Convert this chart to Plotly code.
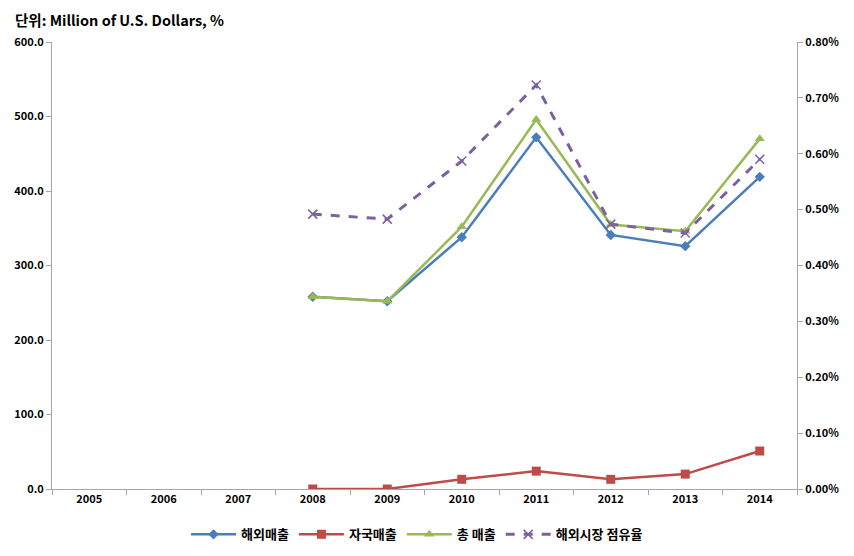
import plotly.graph_objects as go

years = ["2005", "2006", "2007", "2008", "2009", "2010", "2011", "2012", "2013", "2014"]
overseas_sales = [None, None, None, 258, 252, 338, 472, 341, 326, 419]
domestic_sales = [None, None, None, 0, 0, 13, 24, 13, 20, 51]
total_sales = [None, None, None, 258, 252, 352, 496, 355, 346, 470]
overseas_share_pct = [None, None, None, 0.492, 0.483, 0.587, 0.723, 0.474, 0.458, 0.590]

share_frac = [v / 100 if v is not None else None for v in overseas_share_pct]

FONT = "Noto Sans CJK KR"

fig = go.Figure()
fig.add_trace(go.Scatter(
    x=years, y=overseas_sales, name="해외매출", mode="lines+markers",
    line=dict(color="#4A7EBB", width=2.5),
    marker=dict(symbol="diamond", size=8, color="#4A7EBB"),
))
fig.add_trace(go.Scatter(
    x=years, y=domestic_sales, name="자국매출", mode="lines+markers",
    line=dict(color="#BE4B48", width=2.5),
    marker=dict(symbol="square", size=9, color="#BE4B48"),
))
fig.add_trace(go.Scatter(
    x=years, y=total_sales, name="총 매출", mode="lines+markers",
    line=dict(color="#98B954", width=2.5),
    marker=dict(symbol="triangle-up", size=9, color="#98B954"),
))
fig.add_trace(go.Scatter(
    x=years, y=share_frac, name="해외시장 점유율", mode="lines+markers",
    line=dict(color="#7D60A0", width=3, dash="dash"),
    marker=dict(symbol="x-thin", size=9, color="#7D60A0", line=dict(width=1.5, color="#7D60A0")),
    yaxis="y2",
))

fig.update_layout(
    width=846, height=548,
    margin=dict(l=44, r=57, t=34, b=67, autoexpand=False),
    paper_bgcolor="white", plot_bgcolor="white",
    font=dict(family=FONT, size=11, color="black"),
    showlegend=True,
    legend=dict(orientation="h", x=0.49, xanchor="center", y=-0.068, yanchor="top",
                font=dict(family=FONT, size=13, color="black", weight="bold"),
                itemwidth=45),
    xaxis=dict(
        type="category", categoryorder="array", categoryarray=years,
        showgrid=False, showline=True, linecolor="#A6A6A6", linewidth=1,
        ticks="outside", tickson="boundaries", ticklen=5, tickcolor="#A6A6A6",
        tickfont=dict(family=FONT, size=11, weight="bold"),
        range=[-0.5, 9.5], zeroline=False, automargin=False,
    ),
    yaxis=dict(
        range=[0, 600], dtick=100, tickformat=".1f",
        showgrid=False, showline=True, linecolor="#A6A6A6", linewidth=1,
        ticks="outside", ticklen=5, tickcolor="#A6A6A6",
        tickfont=dict(family=FONT, size=11, weight="bold"),
        zeroline=False, automargin=False,
    ),
    yaxis2=dict(
        range=[0, 0.008], dtick=0.001, tickformat=".2%",
        overlaying="y", side="right",
        showgrid=False, showline=True, linecolor="#A6A6A6", linewidth=1,
        ticks="outside", ticklen=5, tickcolor="#A6A6A6",
        tickfont=dict(family=FONT, size=11, weight="bold"),
        zeroline=False, automargin=False,
    ),
    annotations=[dict(
        text="단위: Million of U.S. Dollars, %", xref="paper", yref="paper",
        x=-0.052, y=1.0, xanchor="left", yanchor="bottom", yshift=10,
        showarrow=False, font=dict(family=FONT, size=14.5, color="black", weight="bold"),
    )],
)

fig.write_html("out.html")
